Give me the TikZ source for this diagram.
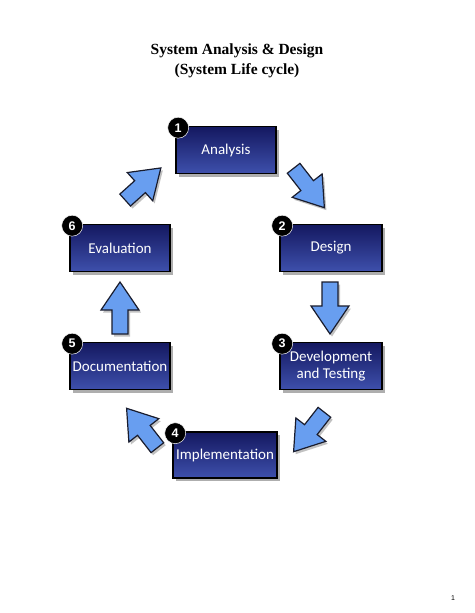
\documentclass[tikz,border=0pt]{standalone}
\usepackage{fontspec}
\setmainfont{Liberation Serif}
\newfontfamily\boxfont{Carlito}
\newfontfamily\numfont{Liberation Sans}
\usetikzlibrary{shadows,calc}
\definecolor{arrowblue}{RGB}{104,158,240}
\definecolor{arrowline}{RGB}{25,28,45}
\definecolor{boxtop}{RGB}{20,24,96}
\definecolor{boxbot}{RGB}{62,80,172}
\tikzset{
  stagebox/.style={draw=black, line width=1.6pt, top color=boxtop, bottom color=boxbot,
    minimum width=100pt, minimum height=47pt, inner sep=2pt, align=center,
    text=white, font=\boxfont\fontsize{15}{16.5}\selectfont,
    drop shadow={shadow xshift=3pt, shadow yshift=-3pt, fill=black!45, opacity=0.7}},
  numdot/.style={circle, fill=black, draw=white, line width=0.5pt, minimum size=21pt, inner sep=0pt,
    text=white, font=\numfont\bfseries\fontsize{12.5}{12}\selectfont},
  blockarrow/.style={fill=arrowblue, draw=arrowline, line width=1.2pt, line join=miter},
  arrowshadow/.style={fill=black!40, opacity=0.6},
  titletext/.style={font=\bfseries\fontsize{15.5}{20}\selectfont, align=center}
}
% block arrow: #1 center, #2 angle (clockwise on screen), #3 length
\newcommand{\cyclearrow}[3]{%
  \begin{scope}[shift={(#1)}, shift={(2,2.5)}, rotate=-#2]
    \fill[arrowshadow] (-#3/2,-8) -- (#3/2-28,-8) -- (#3/2-28,-19) -- (#3/2,0)
      -- (#3/2-28,19) -- (#3/2-28,8) -- (-#3/2,8) -- cycle;
  \end{scope}
  \begin{scope}[shift={(#1)}, rotate=-#2]
    \draw[blockarrow] (-#3/2,-8) -- (#3/2-28,-8) -- (#3/2-28,-19) -- (#3/2,0)
      -- (#3/2-28,19) -- (#3/2-28,8) -- (-#3/2,8) -- cycle;
  \end{scope}}
\begin{document}
\begin{tikzpicture}[x=1pt, y=-1pt]
\useasboundingbox[fill=white] (0,0) rectangle (474,613);

\node[titletext] (title) at (237,61) {System Analysis \& Design\\(System Life cycle)};

\node[stagebox] (ana) at (226,150) {Analysis};
\node[stagebox, minimum width=102pt] (des) at (331,248) {Design};
\node[stagebox, minimum width=102pt] (dev) at (331,366) {Development\\and Testing};
\node[stagebox, minimum height=46pt, minimum width=104pt] (imp) at (225,455) {Implementation};
\node[stagebox] (doc) at (120,366) {Documentation};
\node[stagebox] (eva) at (120,248) {Evaluation};

\node[numdot] (n1) at ($(ana.north west)+(3,2)$) {1};
\node[numdot] (n2) at ($(des.north west)+(3,2)$) {2};
\node[numdot] (n3) at ($(dev.north west)+(3,2)$) {3};
\node[numdot] (n4) at ($(imp.north west)+(3,2)$) {4};
\node[numdot] (n5) at ($(doc.north west)+(3,2)$) {5};
\node[numdot] (n6) at ($(eva.north west)+(3,2)$) {6};

\coordinate (a1) at (309,188);
\coordinate (a2) at (330,308);
\coordinate (a3) at (309,432);
\coordinate (a4) at (142,428);
\coordinate (a5) at (120,308);
\coordinate (a6) at (143,184);
\cyclearrow{a1}{52}{50}
\cyclearrow{a2}{90}{52}
\cyclearrow{a3}{128}{50}
\cyclearrow{a4}{232}{50}
\cyclearrow{a5}{270}{52}
\cyclearrow{a6}{318}{48}

\node[font=\numfont\fontsize{7}{8}\selectfont] (page) at (453,598) {1};
\end{tikzpicture}
\end{document}
